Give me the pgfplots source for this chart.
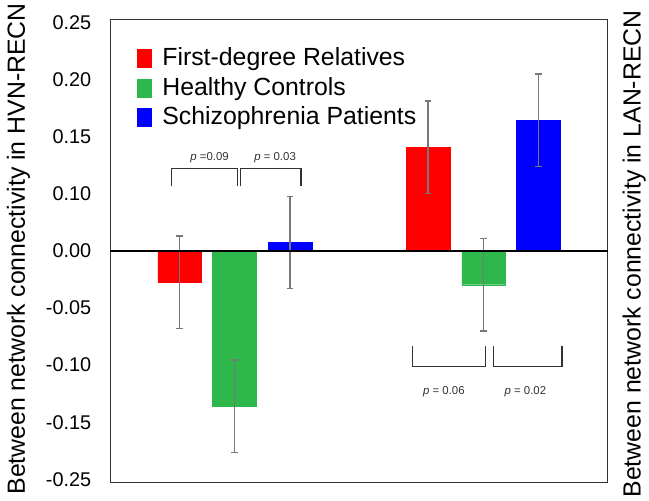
\documentclass[border=0pt]{standalone}
\usepackage{pgfplots}
\pgfplotsset{compat=1.18}
\usepackage{fontspec}
\setmainfont{Liberation Sans}
\definecolor{cred}{RGB}{255,0,0}
\definecolor{cgreen}{RGB}{46,183,74}
\definecolor{cblue}{RGB}{0,0,255}
\definecolor{cerr}{RGB}{120,120,120}
\definecolor{cbr}{RGB}{50,50,50}
\pgfplotsset{myerr/.style={error bars/.cd, y dir=both, y explicit,
   error bar style={cerr, line width=1.3pt},
   error mark=-,
   error mark options={rotate=90, cerr, line width=1.3pt, mark size=3.5pt}}}
\begin{document}
\begin{tikzpicture}
\begin{axis}[
 width=501pt, height=466pt, scale only axis,
 xmin=0, xmax=501, ymin=-0.25, ymax=0.25,
 xtick=\empty,
 ytick={-0.2468,-0.1851,-0.1234,-0.0617,0,0.0617,0.1234,0.1851,0.2468},
 yticklabels={-0.25,-0.15,-0.10,-0.05,0.00,0.10,0.15,0.20,0.25},
 major tick length=0pt,
 yticklabel style={font=\fontsize{20}{20}\selectfont, inner sep=0pt, anchor=east, xshift=-19pt},
 axis line style={draw=black!80, line width=0.9pt},
 clip=false,
 ybar, bar width=44, bar shift=0pt,
 legend style={at={(rel axis cs:0,1)}, anchor=north west, xshift=27pt, yshift=-28pt,
   draw=none, fill=none, inner sep=0pt, row sep=7pt, column sep=11pt,
   font=\fontsize{25}{25}\selectfont,
   nodes={inner sep=0pt, text height=18pt, text depth=5pt}},
 legend cell align=left,
 legend image code/.code={\fill[#1] (0pt,-8pt) rectangle (14pt,10pt);},
]
\addplot[fill=cred, draw=cred, line width=0.3pt, myerr] coordinates {(70,-0.034) +- (0,0.05) (320,0.112) +- (0,0.05)};
\addlegendentry{First-degree Relatives}
\addplot[fill=cgreen, draw=cgreen, line width=0.3pt, myerr] coordinates {(125,-0.168) +- (0,0.05) (376,-0.0365) +- (0,0.05)};
\addlegendentry{Healthy Controls}
\addplot[fill=cblue, draw=cblue, line width=0.3pt, myerr] coordinates {(181,0.009) +- (0,0.05) (431,0.141) +- (0,0.05)};
\addlegendentry{Schizophrenia Patients}
\draw[black, line width=1.8pt] (axis cs:0,0) -- (axis cs:501,0);
% brackets
\draw[cbr, line width=1.2pt] (axis cs:62,0.0697) -- (axis cs:62,0.0891) -- (axis cs:128,0.0891) -- (axis cs:128,0.0697);
\draw[cbr, line width=1.2pt] (axis cs:131,0.0697) -- (axis cs:131,0.0891) -- (axis cs:192,0.0891) -- (axis cs:192,0.0697);
\draw[cbr, line width=1.2pt] (axis cs:304,-0.1030) -- (axis cs:304,-0.1245) -- (axis cs:378,-0.1245) -- (axis cs:378,-0.1030);
\draw[cbr, line width=1.2pt] (axis cs:386,-0.1030) -- (axis cs:386,-0.1245) -- (axis cs:455,-0.1245) -- (axis cs:455,-0.1030);
\node[font=\fontsize{11.5}{11.5}\selectfont, text=cbr] at (axis cs:100,0.1009) {\textit{p} =0.09};
\node[font=\fontsize{11.5}{11.5}\selectfont, text=cbr] at (axis cs:166,0.1009) {\textit{p} = 0.03};
\node[font=\fontsize{11.5}{11.5}\selectfont, text=cbr] at (axis cs:336,-0.1524) {\textit{p} = 0.06};
\node[font=\fontsize{11.5}{11.5}\selectfont, text=cbr] at (axis cs:418,-0.1524) {\textit{p} = 0.02};
\end{axis}
\node[rotate=90, anchor=base, font=\fontsize{25}{25}\selectfont] at ([xshift=-86pt, yshift=2pt]current axis.west) {Between network connectivity in HVN-RECN};
\node[rotate=90, anchor=base, font=\fontsize{25}{25}\selectfont] at ([xshift=33pt, yshift=-3pt]current axis.east) {Between network connectivity in LAN-RECN};
\path ([shift={(-111pt,-17pt)}]current axis.south west) rectangle ([shift={(37pt,19pt)}]current axis.north east);
\end{tikzpicture}
\end{document}
